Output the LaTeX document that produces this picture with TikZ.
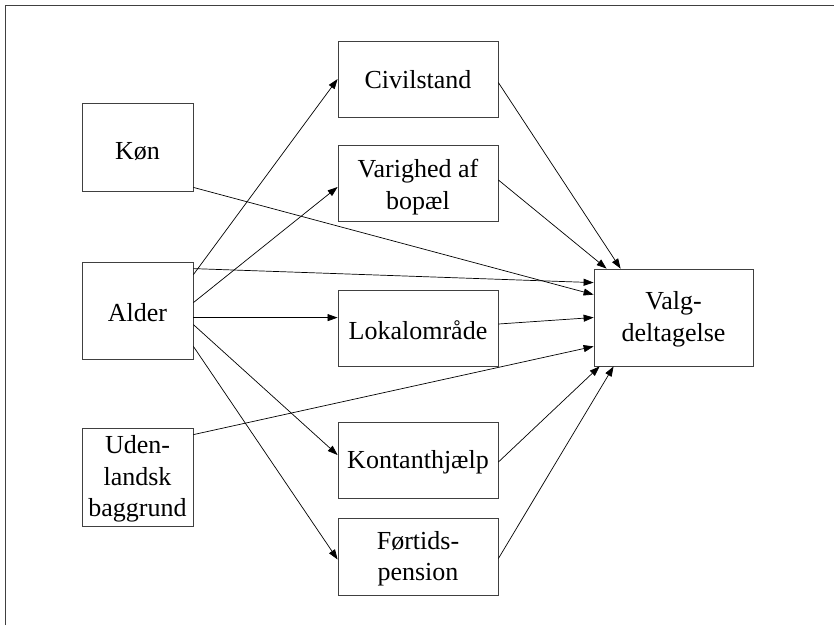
\documentclass[tikz,border=0pt]{standalone}
\usepackage{fontspec}
\setmainfont{Liberation Serif}
\usetikzlibrary{arrows.meta}
\begin{document}
\begin{tikzpicture}[x=1pt,y=-1pt,
  box/.style={draw=black!75, line width=0.8pt, inner sep=0pt},
  lbox/.style={box, minimum width=111pt},
  rbox/.style={box, minimum width=160pt, minimum height=76pt},
  lab/.style={inner sep=0pt, align=center, font=\fontsize{26}{31.5}\selectfont},
  arr/.style={-{Triangle[length=10pt,width=7pt]}, line width=0.7pt}]
\useasboundingbox (0,0) rectangle (834,625);
\draw[black!75, line width=0.9pt] (5,625) -- (5,5) -- (834,5);
\node[lbox, minimum height=88pt] (kon) at (137.5,147) {};
\node[lbox, minimum height=97pt] (alder) at (137.5,310.5) {};
\node[lbox, minimum height=98pt] (uden) at (137.5,477) {};
\node[rbox] (civil) at (418,79) {};
\node[rbox] (varig) at (418,183) {};
\node[rbox] (lokal) at (418,328) {};
\node[rbox] (kontant) at (418,460) {};
\node[rbox, minimum height=77pt] (fortid) at (418,556.5) {};
\node[box, minimum width=159pt, minimum height=97pt] (valg) at (673.5,317.5) {};
\node[lab, yshift=-5pt] (konT) at (kon) {Køn};
\node[lab, yshift=-2pt] (alderT) at (alder) {Alder};
\node[lab, yshift=-2pt] (udenT) at (uden) {Uden-\\landsk\\baggrund};
\node[lab, yshift=-1pt] (civilT) at (civil) {Civilstand};
\node[lab, yshift=-4pt] (varigT) at (varig) {Varighed af\\bopæl};
\node[lab, yshift=-2pt] (lokalT) at (lokal) {Lokalområde};
\node[lab, yshift=-2pt] (kontantT) at (kontant) {Kontanthjælp};
\node[lab, yshift=-2pt] (fortidT) at (fortid) {Førtids-\\pension};
\node[lab, yshift=-2pt] (valgT) at (valg) {Valg-\\deltagelse};
\draw[arr] ([yshift=-13pt]alder.north east) -- (civil.west);
\draw[arr] ([yshift=-41pt]alder.north east) -- ([yshift=-4pt]varig.west);
\draw[arr] ([yshift=-56pt]alder.north east) -- ([yshift=-28pt]lokal.north west);
\draw[arr] ([yshift=-63pt]alder.north east) -- ([yshift=5pt]kontant.west);
\draw[arr] ([yshift=13pt]alder.south east) -- ([yshift=-3pt]fortid.west);
\draw[arr] ([yshift=-7pt]alder.north east) -- ([yshift=-14pt]valg.north west);
\draw[arr] ([yshift=4pt]kon.south east) -- ([yshift=-26pt]valg.north west);
\draw[arr] ([yshift=-42pt]civil.north east) -- ([xshift=27pt]valg.north west);
\draw[arr] ([yshift=3pt]varig.east) -- ([xshift=13pt]valg.north west);
\draw[arr] ([yshift=4pt]lokal.east) -- (valg.west);
\draw[arr] ([yshift=-7pt]uden.north east) -- ([yshift=20pt]valg.south west);
\draw[arr] ([yshift=-2pt]kontant.east) -- ([xshift=6pt]valg.south west);
\draw[arr] ([yshift=-2pt]fortid.east) -- ([xshift=20pt]valg.south west);
\end{tikzpicture}
\end{document}
